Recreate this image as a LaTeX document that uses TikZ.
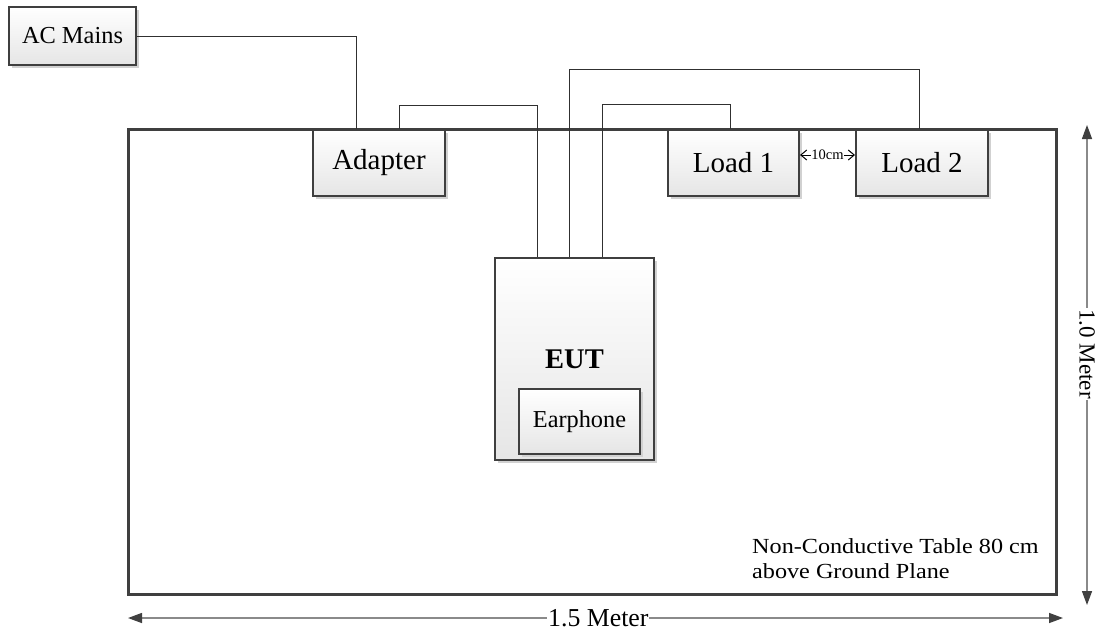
\documentclass[tikz,border=0pt]{standalone}
\usepackage{fontspec}
\usepackage{graphicx}
\setmainfont{Liberation Serif}
\usetikzlibrary{arrows.meta,shadows,calc}
\definecolor{bordc}{HTML}{3F3F3F}
\definecolor{linec}{HTML}{303030}
\definecolor{dimc}{HTML}{8A8A8A}
\definecolor{headc}{HTML}{404040}
\tikzset{
  box/.style={draw=bordc, line width=2pt, top color=white, bottom color=black!10,
    drop shadow={shadow xshift=3pt, shadow yshift=-3pt, fill=black!18, opacity=1},
    inner sep=0pt, align=center},
  wire/.style={draw=linec, line width=1pt},
  dimline/.style={draw=dimc, line width=1.4pt, {Triangle[length=14pt,width=10pt,fill=headc,color=headc]}-{Triangle[length=14pt,width=10pt,fill=headc,color=headc]}},
  dimlabel/.style={fill=white, inner sep=1pt, text=black},
}
\begin{document}
\begin{tikzpicture}[x=1pt,y=-1pt]
\useasboundingbox (0,0) rectangle (1099,635);
% table
\node[draw=bordc, line width=3pt, fill=white, minimum width=928pt, minimum height=465pt, inner sep=0pt,
  drop shadow={shadow xshift=2pt, shadow yshift=-2pt, fill=black!15, opacity=1}] (table) at (592,361.5) {};
% connectors (drawn before boxes)
\node[box, minimum width=127pt, minimum height=58pt, font=\fontsize{24.4}{28}\selectfont] (ac) at (72.5,36) {AC Mains};
\coordinate (adtop) at (379,130);
\coordinate (euttop) at (574.5,258);
\coordinate (l1top) at (733.5,130);
\coordinate (l2top) at (922,130);
\draw[wire] (ac.east) -| ([xshift=-23pt]adtop);
\draw[wire] ([xshift=20pt]adtop) -- ++(0,-25) -| ([xshift=-37.5pt]euttop);
\draw[wire] ([xshift=27.5pt]euttop) -- ++(0,-154) -| ([xshift=-3.5pt]l1top);
\draw[wire] ([xshift=-5.5pt]euttop) -- ++(0,-189) -| ([xshift=-3pt]l2top);
% boxes
\node[box, minimum width=132pt, minimum height=66pt, font=\fontsize{29}{33}\selectfont] (adapter) at (379,163) {Adapter};
\node[box, minimum width=131pt, minimum height=66pt, font=\fontsize{29}{33}\selectfont] (load1) at (733.5,163) {Load 1};
\node[box, minimum width=132pt, minimum height=66pt, font=\fontsize{29}{33}\selectfont] (load2) at (922,163) {Load 2};
\node[box, minimum width=159pt, minimum height=202pt, font=\fontsize{28.5}{32}\selectfont\bfseries] (eut) at (574.5,359) {EUT};
\node[box, minimum width=121pt, minimum height=65pt, font=\fontsize{24.3}{28}\selectfont] (ear) at (579.5,421.5) {Earphone};
% 10 cm spacing
\draw[line width=1pt, {Straight Barb[length=6pt,width=10pt]}-{Straight Barb[length=6pt,width=10pt]}]
  ([yshift=8pt]load1.east) -- node[fill=white, inner sep=0.5pt, font=\fontsize{14.5}{16}\selectfont] {10cm} ([yshift=8pt]load2.west);
% table note
\node[anchor=base west, inner sep=0pt, font=\fontsize{21.5}{25}\selectfont] (note1) at (752,553) {\scalebox{1.125}[1]{Non-Conductive Table 80 cm}};
\node[anchor=base west, inner sep=0pt, font=\fontsize{21.5}{25}\selectfont] (note2) at (752,578) {\scalebox{1.125}[1]{above Ground Plane}};
% dimensions
\coordinate (vt) at (1087,125);
\coordinate (vb) at (1087,605);
\draw[dimline] (vt) -- node[pos=0.477, dimlabel, rotate=-90, font=\fontsize{23}{27}\selectfont] (vlab) {1.0 Meter} (vb);
\coordinate (hl) at (128,618);
\coordinate (hr) at (1063,618);
\draw[dimline] (hl) -- node[pos=0.503, dimlabel, font=\fontsize{25.8}{29}\selectfont] (hlab) {1.5 Meter} (hr);
\end{tikzpicture}
\end{document}
